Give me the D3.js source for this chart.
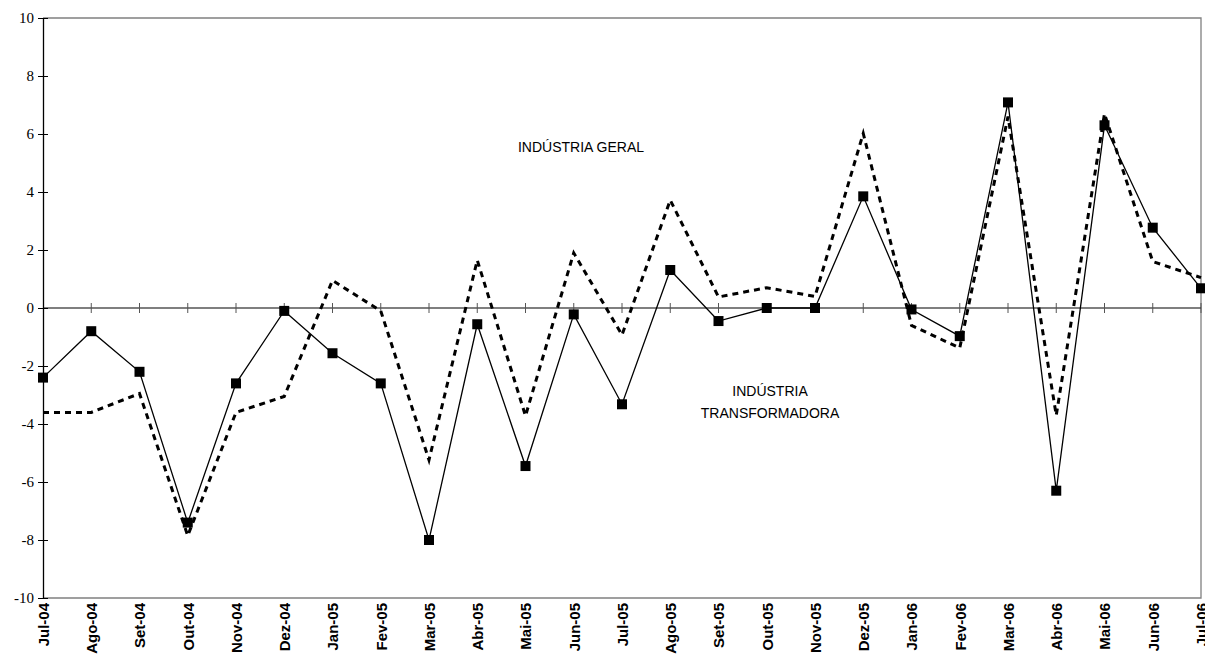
<!DOCTYPE html>
<html>
<head>
<meta charset="utf-8">
<script src="https://cdn.jsdelivr.net/npm/d3@7"></script>
<style>
  html, body { margin: 0; padding: 0; background: #fff; }
  svg { display: block; }
</style>
</head>
<body>
<svg id="chart" width="1205" height="668"></svg>
<script>
const categories = ["Jul-04","Ago-04","Set-04","Out-04","Nov-04","Dez-04","Jan-05","Fev-05","Mar-05","Abr-05","Mai-05","Jun-05","Jul-05","Ago-05","Set-05","Out-05","Nov-05","Dez-05","Jan-06","Fev-06","Mar-06","Abr-06","Mai-06","Jun-06","Jul-06"];
const solidSeries = [-2.4,-0.8,-2.2,-7.4,-2.6,-0.1,-1.56,-2.6,-8.0,-0.56,-5.45,-0.22,-3.32,1.31,-0.45,0.0,0.0,3.85,-0.05,-0.97,7.09,-6.3,6.3,2.77,0.68];
const dashedSeries = [-3.6,-3.6,-2.95,-7.85,-3.6,-3.05,0.95,-0.1,-5.24,1.65,-3.72,1.9,-0.93,3.72,0.38,0.7,0.4,6.02,-0.6,-1.38,6.6,-3.7,6.7,1.6,1.05];
const yTicks = [-10,-8,-6,-4,-2,0,2,4,6,8,10];
const labelGeral = "INDÚSTRIA GERAL";
const labelTransf = ["INDÚSTRIA", "TRANSFORMADORA"];

(function () {
const svg = d3.select("#chart");
const mLeft = 43, mRight = 1201, mTop = 18, mBottom = 598;

const x = d3.scalePoint().domain(categories).range([mLeft, mRight]);
const y = d3.scaleLinear().domain([-10, 10]).range([mBottom, mTop]);

// frame (gray top, right, bottom)
svg.append("path")
  .attr("d", `M${mLeft},${mTop}H${mRight}V${mBottom}H${mLeft}`)
  .attr("fill", "none").attr("stroke", "#808080").attr("stroke-width", 1.3);

// y axis
const yAxis = d3.axisLeft(y).tickValues(yTicks).tickSize(0).tickPadding(8).tickFormat(d => String(d));
const gy = svg.append("g").attr("transform", `translate(${mLeft},0)`).call(yAxis);
gy.select(".domain").attr("stroke", "#000").attr("stroke-width", 1.3);
gy.selectAll(".tick text")
  .attr("font-family", "'Liberation Serif', 'Times New Roman', serif")
  .attr("font-size", 15).attr("fill", "#000").attr("x", -9);
gy.selectAll(".tick").append("line")
  .attr("x1", -5).attr("x2", 5).attr("stroke", "#000").attr("stroke-width", 1);

// zero line with crossing ticks
const zx = svg.append("g").attr("transform", `translate(0,${y(0)})`);
zx.append("line").attr("x1", mLeft).attr("x2", mRight).attr("stroke", "#000").attr("stroke-width", 1.2);
zx.selectAll("line.tk").data(categories.slice(1)).enter().append("line")
  .attr("class", "tk")
  .attr("x1", d => x(d)).attr("x2", d => x(d))
  .attr("y1", -5).attr("y2", 5)
  .attr("stroke", "#555").attr("stroke-width", 1);

// x labels (bottom)
const xAxis = d3.axisBottom(x).tickSize(0).tickPadding(0);
const gx = svg.append("g").attr("transform", `translate(0,${mBottom})`).call(xAxis);
gx.select(".domain").remove();
gx.selectAll(".tick text")
  .attr("font-family", "'Liberation Sans', Arial, sans-serif")
  .attr("font-weight", "bold").attr("font-size", 15).attr("fill", "#000")
  .attr("text-anchor", "end")
  .attr("transform", "rotate(-90)")
  .attr("x", -5).attr("y", 0).attr("dy", "0.35em");

const line = d3.line().x((d, i) => x(categories[i])).y(d => y(d));

// dashed series
svg.append("path").datum(dashedSeries)
  .attr("d", line).attr("fill", "none")
  .attr("stroke", "#000").attr("stroke-width", 3)
  .attr("stroke-dasharray", "6,5");

// solid series
svg.append("path").datum(solidSeries)
  .attr("d", line).attr("fill", "none")
  .attr("stroke", "#000").attr("stroke-width", 1.3);

const sq = 10;
svg.selectAll("rect.pt").data(solidSeries).enter().append("rect")
  .attr("class", "pt")
  .attr("x", (d, i) => x(categories[i]) - sq / 2)
  .attr("y", d => y(d) - sq / 2)
  .attr("width", sq).attr("height", sq).attr("fill", "#000");

// annotations
svg.append("text").text(labelGeral)
  .attr("x", 581).attr("y", 152)
  .attr("text-anchor", "middle")
  .attr("font-family", "'Liberation Sans', Arial, sans-serif")
  .attr("font-size", 14).attr("fill", "#000");

svg.append("text")
  .attr("text-anchor", "middle")
  .attr("font-family", "'Liberation Sans', Arial, sans-serif")
  .attr("font-size", 14).attr("fill", "#000")
  .selectAll("tspan").data(labelTransf).enter().append("tspan")
  .attr("x", 770).attr("y", (d, i) => 396 + i * 22)
  .text(d => d);
})();
</script>
</body>
</html>
